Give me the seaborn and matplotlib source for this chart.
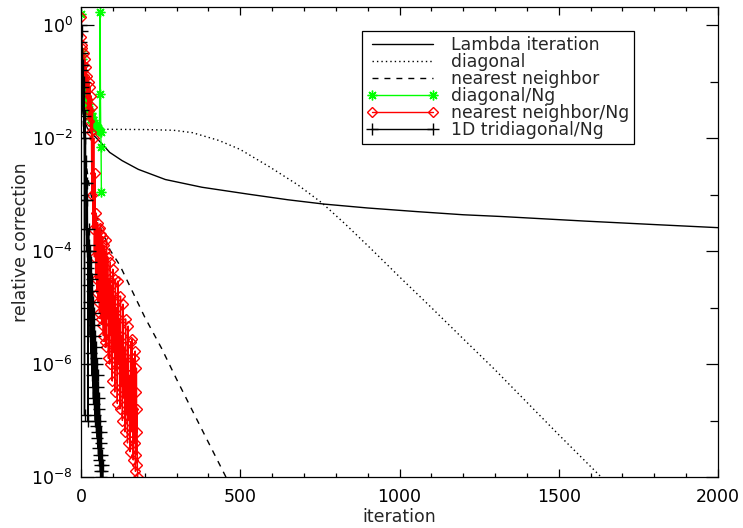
import numpy as np
import pandas as pd
import matplotlib
matplotlib.use("Agg")
import matplotlib.pyplot as plt
from matplotlib.ticker import FixedLocator, LogFormatterSciNotation, NullFormatter
import seaborn as sns

# ---- convergence histories (relative correction per iteration) ----
lambda_it = [0, 1, 2, 4, 7, 12, 20, 30, 45, 69, 90, 129, 180, 265, 380, 525,
             650, 763, 900, 1055, 1200, 1319, 1582, 1800, 2000]
lambda_val = [1.0, 0.3, 0.12, 0.05, 0.03, 0.02, 0.015, 0.0125, 0.0105, 7.6e-3,
              5.6e-3, 4.0e-3, 2.8e-3, 1.85e-3, 1.35e-3, 1.02e-3, 8.1e-4, 6.8e-4,
              5.8e-4, 5.0e-4, 4.4e-4, 4.1e-4, 3.4e-4, 2.95e-4, 2.6e-4]

diag_it = [0, 3, 10, 25, 50, 100, 200, 290, 350, 433, 500, 592, 680, 757, 830,
           909, 1000, 1100, 1200, 1300, 1400, 1500, 1633, 1660]
diag_val = [1.0, 0.1, 0.03, 0.017, 0.0145, 0.0143, 0.0142, 0.0138, 0.0125, 9.1e-3,
            6.3e-3, 3.1e-3, 1.5e-3, 7.1e-4, 3.0e-4, 1.12e-4, 3.5e-5, 1.0e-5,
            2.8e-6, 7.9e-7, 2.1e-7, 5.6e-8, 1.0e-8, 7.0e-9]

nn_it = [0, 3, 8, 15, 25, 40, 60, 91, 122, 200, 253, 300, 400, 455, 470]
nn_val = [1.0, 0.08, 0.015, 4e-3, 1.5e-3, 6e-4, 2.7e-4, 1.05e-4, 5.6e-5, 6.8e-6,
          1.9e-6, 5.4e-7, 4.1e-8, 1.0e-8, 6.8e-9]

diagng_it = [0, 1, 2, 3, 4, 5, 6, 7, 8, 9, 10, 12, 14, 16, 18, 20, 22, 24, 26,
             28, 30, 32, 34, 36, 38, 40, 42, 44, 46, 48, 50, 52, 54, 56, 58,
             60, 61, 62, 63, 64]
diagng_val = [1.6, 0.35, 0.25, 0.16, 0.2, 0.11, 0.13, 0.08, 0.09, 0.063, 0.07,
              0.05, 0.055, 0.04, 0.045, 0.035, 0.04, 0.03, 0.033, 0.025, 0.028,
              0.022, 0.024, 0.019, 0.021, 0.017, 0.018, 0.016, 0.017, 0.015,
              0.0155, 0.0145, 0.015, 0.014, 0.0135, 1.7, 0.06, 0.013, 0.007,
              0.0011]

nnng_it = [0, 1, 2, 4, 6, 8, 10, 12, 14, 16, 18, 20, 22, 24, 26, 28, 30, 32,
           34, 36, 38, 40, 42, 44, 46, 48, 50, 52, 54, 56, 58, 60, 62, 64, 66,
           68, 70, 72, 74, 76, 78, 80, 82, 84, 86, 88, 90, 92, 94, 96, 98, 100,
           102, 104, 106, 108, 110, 112, 114, 116, 118, 120, 122, 124, 126,
           128, 130, 132, 134, 136, 138, 140, 142, 144, 146, 148, 150, 152,
           154, 156, 158, 160, 162, 164, 166, 168, 170, 171, 172, 173, 174,
           175, 176, 177, 178]
nnng_val = [1.4, 0.63, 0.4, 0.45, 0.2, 0.32, 0.126, 0.25, 0.079, 0.18, 0.05,
             0.126, 0.032, 0.1, 0.02, 0.079, 0.0126, 0.056, 1.0e-3, 0.035,
             2.5e-4, 0.01, 7.9e-5, 2.4e-3, 3.2e-5, 4.7e-4, 1.8e-5, 3.2e-4,
             1.26e-5, 2.5e-4, 7.9e-6, 2.6e-4, 6.3e-6, 2.0e-4, 5.0e-6, 1.8e-4,
             3.2e-6, 1.26e-4, 2.5e-6, 1.0e-4, 2.0e-6, 1.6e-4, 6.3e-6, 7.9e-5,
             1.26e-6, 3.2e-5, 1.0e-6, 6.3e-5, 3.2e-6, 2.5e-5, 5.0e-7, 4.8e-5,
             1.6e-6, 1.6e-5, 3.2e-7, 3.2e-5, 7.9e-7, 1.0e-5, 2.0e-7, 2.95e-5,
             1.0e-6, 6.3e-6, 1.6e-7, 1.6e-5, 4.0e-7, 3.2e-6, 1.0e-7, 1.15e-5,
             2.5e-7, 2.0e-6, 6.3e-8, 6.3e-6, 1.26e-7, 1.26e-6, 4.0e-8, 4.7e-6,
             1.0e-7, 6.3e-7, 2.8e-8, 2.5e-6, 6.3e-8, 2.75e-6, 1.6e-7, 2.0e-8,
             1.26e-6, 4.0e-8, 1.7e-6, 1.26e-8, 3.2e-7, 2.5e-8, 8.5e-7, 6.3e-8,
             1.6e-7, 1.6e-8, 1.0e-8]

tri_it = list(range(0, 70))
tri_val = [1.0, 0.5, 0.8, 0.16, 0.32, 0.079, 0.2, 0.032, 0.1, 0.0126, 0.063,
           1.26e-7, 0.025, 1.6e-3, 0.01, 7.9e-4, 4.0e-3, 2.5e-4, 1.6e-3, 1.0e-4,
           7.9e-4, 5.0e-5, 1.0e-7, 2.5e-5, 2.5e-4, 1.26e-5, 1.26e-4, 6.3e-6,
           1.0e-4, 3.2e-6, 6.3e-5, 1.6e-6, 4.0e-5, 1.0e-6, 3.2e-5, 6.3e-7,
           2.0e-5, 4.0e-7, 1.26e-5, 2.5e-7, 7.9e-6, 2.0e-7, 5.0e-6, 1.26e-7,
           3.2e-6, 1.0e-7, 2.0e-6, 7.9e-8, 1.26e-6, 6.3e-8, 1.0e-6, 5.0e-8,
           6.3e-7, 3.2e-8, 4.0e-7, 2.5e-8, 2.5e-7, 2.0e-8, 1.6e-7, 1.6e-8,
           1.0e-7, 1.26e-8, 6.3e-8, 1.0e-8, 4.0e-8, 1.26e-8, 2.5e-8, 7.9e-9,
           1.6e-8, 6.3e-9]

x_ticks = [0, 500, 1000, 1500, 2000]
y_major = [1e-8, 1e-6, 1e-4, 1e-2, 1e0]
y_minor = [1e-7, 1e-5, 1e-3, 1e-1]

sns.set_theme(style="ticks")
plt.rcParams["font.family"] = ["DejaVu Sans"]
plt.rcParams["mathtext.fontset"] = "dejavusans"

fig = plt.figure(figsize=(7.43, 5.28), dpi=100)
ax = fig.add_axes([81 / 743, 1 - 477 / 528, (718 - 81) / 743, (477 - 7) / 528])

common = dict(ax=ax, sort=False, estimator=None, linewidth=1.0)

sns.lineplot(x=lambda_it, y=lambda_val, color="black", linestyle="-",
             label="Lambda iteration", **common)
sns.lineplot(x=diag_it, y=diag_val, color="black", linestyle=(0, (1, 2.2)),
             label="diagonal", **common)
sns.lineplot(x=nn_it, y=nn_val, color="black", linestyle=(0, (4.3, 4.3)),
             label="nearest neighbor", **common)
sns.lineplot(x=diagng_it, y=diagng_val, color="#00ff00", linestyle="-",
             marker=(8, 2, 0), markersize=7, markeredgewidth=1.0,
             markeredgecolor="#00ff00", label="diagonal/Ng", **common)
sns.lineplot(x=nnng_it, y=nnng_val, color="#ff0000", linestyle="-",
             marker="D", markersize=4.6, markerfacecolor="none",
             markeredgecolor="#ff0000", markeredgewidth=1.0,
             label="nearest neighbor/Ng", **common)
sns.lineplot(x=tri_it, y=tri_val, color="black", linestyle="-", marker="+",
             markersize=8, markeredgewidth=1.0, markeredgecolor="black",
             label="1D tridiagonal/Ng", **common)

ax.set_yscale("log")
ax.set_xlim(0, 2000)
ax.set_ylim(1e-8, 2.1)

ax.xaxis.set_major_locator(FixedLocator(x_ticks))
ax.xaxis.set_minor_locator(FixedLocator([v for v in range(0, 2001, 100) if v % 500]))
ax.yaxis.set_major_locator(FixedLocator(y_major))
ax.yaxis.set_minor_locator(FixedLocator(y_minor))
ax.yaxis.set_major_formatter(LogFormatterSciNotation())
ax.yaxis.set_minor_formatter(NullFormatter())

ax.tick_params(which="both", direction="in", top=True, right=True,
               colors="black", width=0.9, labelsize=12.5)
ax.tick_params(axis="x", which="major", length=6, pad=8)
ax.tick_params(axis="x", which="minor", length=3)
ax.tick_params(axis="y", which="major", length=9, pad=6)
ax.tick_params(axis="y", which="minor", length=5.5)
for s in ax.spines.values():
    s.set_visible(True)
    s.set_color("black")
    s.set_linewidth(0.9)

ax.set_xlabel("iteration", fontsize=12.5, labelpad=1)
ax.set_ylabel("relative correction", fontsize=12.5, labelpad=1)

leg = ax.legend(loc="upper left", bbox_to_anchor=(362 / 743, 1 - 31 / 528),
                bbox_transform=fig.transFigure, fontsize=12.4, numpoints=2,
                handlelength=4.15, handletextpad=0.7, labelspacing=-0.06,
                borderpad=0.3, borderaxespad=0, fancybox=False, framealpha=1,
                edgecolor="black")
leg.get_frame().set_linewidth(0.9)

fig.savefig("out.png", dpi=100)
